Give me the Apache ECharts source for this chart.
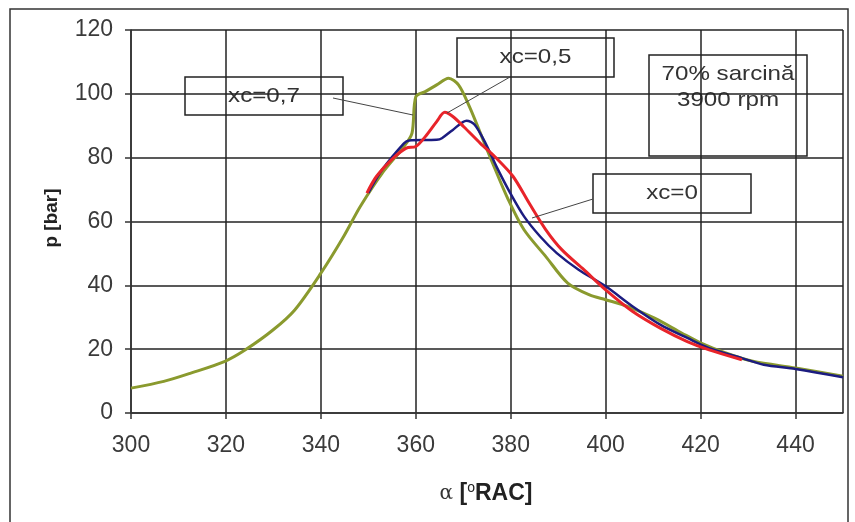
<!DOCTYPE html>
<html><head><meta charset="utf-8">
<script src="https://cdn.jsdelivr.net/npm/echarts@6/dist/echarts.min.js"></script>
<style>html,body{margin:0;padding:0;background:#fff}#c{width:855px;height:522px}</style>
</head><body><div id="c"></div>
<script>
// x: crank angle [°RAC], y: pressure [bar]
const greenX = [300,306.9,312.6,319.8,324.1,329.9,334.5,340,344.8,348.3,352.9,357.5,359.2,360,362,364.4,366.9,369,371.3,373.6,375.9,379.5,382.8,387.4,392,396.6,400,404.6,410.3,416.1,420.1,425.3,431,440,450];
const greenY = [7.8,9.9,12.5,16.2,19.8,26,32.3,43.8,55.3,64.7,75.1,83.5,87.7,99.1,100.7,102.8,104.9,102.8,96,87.7,79.3,66.8,57.4,49,40.7,37,35.5,33.4,29.7,25,21.9,18.8,16.2,14.1,11.5];
const blueX = [350,352.9,357.5,358.6,364.4,365.5,367.8,370.7,372.4,374.7,377,379.9,382.8,386.2,389.7,394.3,400,405.7,411.5,417.2,421.8,428.7,433.3,440,450];
const blueY = [69,76.2,84.5,85.4,85.6,86.1,88.7,91.6,90.3,84.5,77.2,68.9,61.6,55.3,50.1,44.9,39.7,33.4,27.7,23.5,20.3,17.2,15.1,13.8,11.2];
const redX = [349.7,351.7,355.2,358,360,362,364.4,366.1,367.8,370.1,373.6,377,380.5,383.9,387.4,390.8,395.4,400,405.7,411.5,417.2,421.8,428.7];
const redY = [68.9,74.1,79.8,83,83.5,86.6,91.3,94.2,92.9,89.7,84.5,79.8,74.1,65.7,57.4,51.1,44.9,38.6,31.8,26.6,22.4,19.8,16.7];
const xTicks = [300,320,340,360,380,400,420,440];
const yTicks = [0,20,40,60,80,100,120];

const zip = (a,b) => a.map((v,i)=>[v,b[i]]);
const chart = echarts.init(document.getElementById('c'));
const FONT = 'Liberation Sans, Arial, sans-serif';
function box(x,y,w,h,lines,fs,ty){
  return {type:'group', z:100, children:[
    {type:'rect', shape:{x:x,y:y,width:w,height:h}, style:{fill:'#fff', stroke:'#222', lineWidth:1.5}},
    {type:'text', x:x+w/2, y:(ty!==undefined?ty:y+h/2), scaleX:1.15,
      style:{x:0, y:0, text:lines.join('\n'), fill:'#333', font:fs+'px '+FONT, align:'center', verticalAlign:(lines.length>1?'top':'middle'), lineHeight:26}}
  ]};
}
function leader(x1,y1,x2,y2){
  return {type:'line', z:101, shape:{x1:x1,y1:y1,x2:x2,y2:y2}, style:{stroke:'#444', lineWidth:1}};
}
chart.setOption({
  animation:false,
  backgroundColor:'#fff',
  grid:{left:131, right:12, top:30, bottom:109},
  xAxis:{type:'value', min:300, max:450, interval:20,
    axisLine:{lineStyle:{color:'#333', width:1.5}},
    axisTick:{show:true, length:6, lineStyle:{color:'#333', width:1.5}},
    axisLabel:{color:'#3a3a3a', fontSize:23, fontFamily:FONT, margin:21, showMaxLabel:false},
    splitLine:{show:true, lineStyle:{color:'#222', width:1.5}}},
  yAxis:{type:'value', min:0, max:120, interval:20,
    axisLine:{show:true, lineStyle:{color:'#333', width:1.5}},
    axisTick:{show:true, length:6, lineStyle:{color:'#333', width:1.5}},
    axisLabel:{color:'#3a3a3a', fontSize:23, fontFamily:FONT, margin:18},
    splitLine:{show:true, lineStyle:{color:'#222', width:1.5}}},
  series:[
    {type:'line', data:zip(greenX,greenY), showSymbol:false, smooth:0.3, lineStyle:{color:'#8a9a2e', width:3}, z:3},
    {type:'line', data:zip(blueX,blueY), showSymbol:false, smooth:0.3, lineStyle:{color:'#1c1c80', width:2.5}, z:4},
    {type:'line', data:zip(redX,redY), showSymbol:false, smooth:0.3, lineStyle:{color:'#e8242a', width:3}, z:5}
  ],
  graphic:[
    {type:'rect', z:0, silent:true, shape:{x:10,y:9,width:838,height:530}, style:{fill:'none', stroke:'#333', lineWidth:1.5}},
    {type:'text', z:100, rotation:Math.PI/2, x:52, y:218, style:{text:'p [bar]', fill:'#222', font:'bold 19px '+FONT, align:'center', verticalAlign:'middle'}},
    {type:'text', z:100, x:486, y:494, style:{text:'{a|α} [{s|o}RAC]', fill:'#222', font:'bold 23px '+FONT, align:'center', verticalAlign:'middle',
      rich:{a:{fontSize:20, fontWeight:'normal', fill:'#333', fontFamily:'DejaVu Serif'}, s:{fontSize:14, fontWeight:'normal', verticalAlign:'top', padding:[0,0,12,0], fill:'#222'}}}},
    leader(333,98,413,115),
    leader(510,77,447,113),
    leader(593,199,532,218),
    box(185,77,158,38,['xc=0,7'],21),
    box(457,38,157,39,['xc=0,5'],21),
    box(649,55,158,101,['70% sarcină','3900 rpm'],21,61),
    box(593,174,158,39,['xc=0'],21)
  ]
});
</script></body></html>
